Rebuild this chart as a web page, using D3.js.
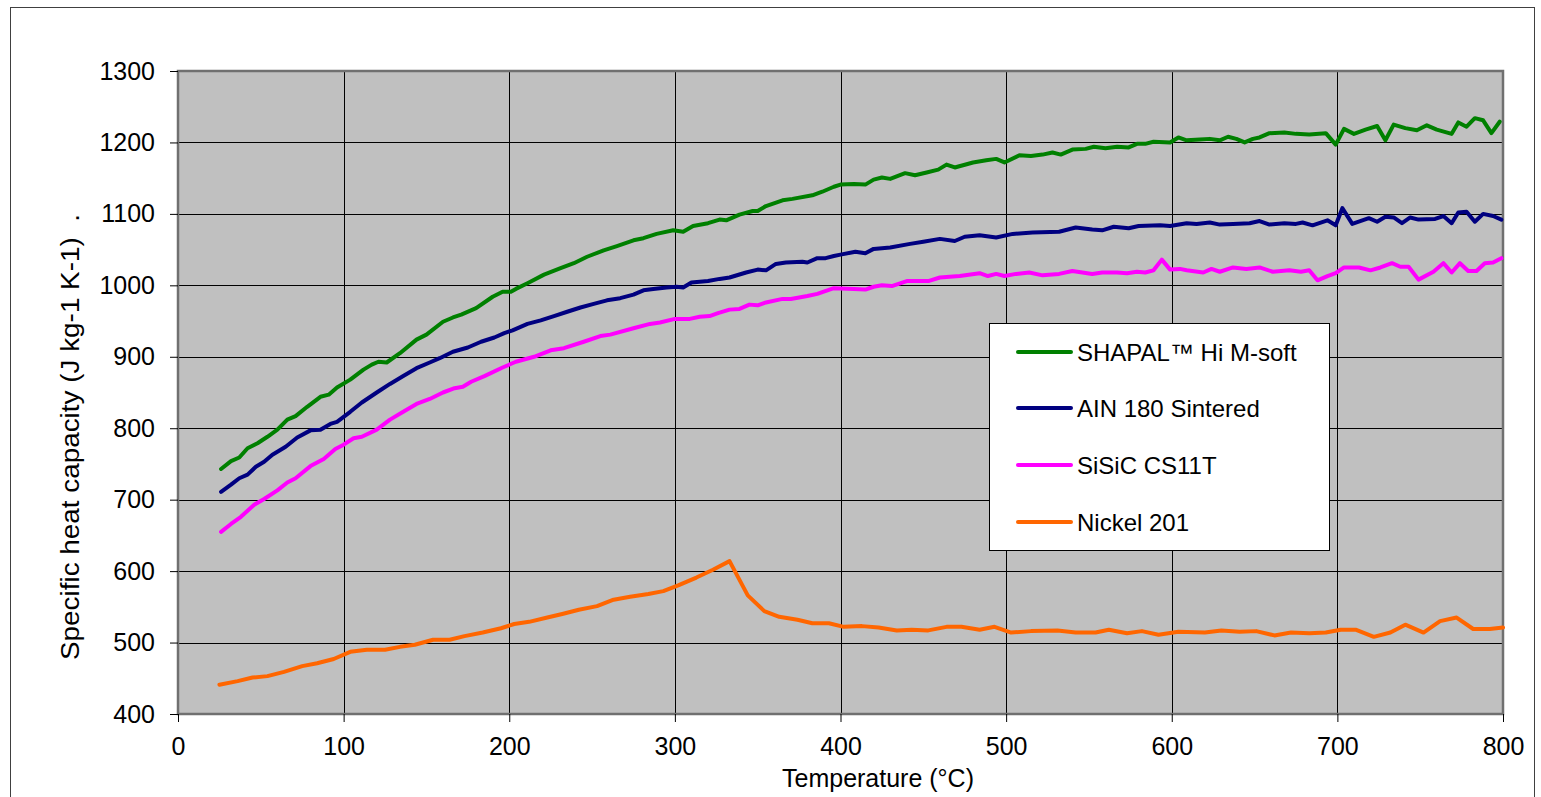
<!DOCTYPE html>
<html>
<head>
<meta charset="utf-8">
<script src="https://cdn.jsdelivr.net/npm/d3@7"></script>
<style>
  body { margin: 0; background: #fff; }
  text { font-family: "Liberation Sans", Arial, sans-serif; fill: #000; }
</style>
</head>
<body>
<svg id="chart" width="1541" height="797"></svg>
<script>
// Specific heat capacity vs temperature
var xTicks = [0, 100, 200, 300, 400, 500, 600, 700, 800],
    yTicks = [400, 500, 600, 700, 800, 900, 1000, 1100, 1200, 1300];

var seriesNames = ["SHAPAL\u2122 Hi M-soft", "AIN 180 Sintered", "SiSiC CS11T", "Nickel 201"],
    seriesColors = ["#008000", "#000080", "#ff00ff", "#ff6600"];

var shapalT = [26,32,37,42,48,54,60,66,71,78,86,91,96,104,112,117,121,126,134,144,150,160,166,171,180,190,196,201,204,211,221,231,239,247,257,265,275,281,289,299,305,311,320,327,331,339,347,350,355,365,371,383,389,396,400,408,415,420,425,430,439,445,452,459,464,469,480,488,494,499,508,515,522,528,533,540,548,553,560,567,574,579,584,589,599,604,609,617,623,629,634,639,644,649,653,659,668,675,683,693,699,704,710,717,724,729,734,741,748,754,760,769,773,778,783,788,793,798];
var shapalV = [743,754,759,772,779,788,798,812,817,830,844,847,857,868,882,889,893,892,905,924,931,949,955,959,968,984,991,991,995,1003,1015,1024,1031,1040,1049,1055,1063,1066,1072,1077,1075,1083,1087,1092,1091,1099,1104,1104,1111,1119,1121,1126,1131,1138,1141,1142,1141,1148,1151,1149,1157,1154,1158,1162,1169,1165,1172,1175,1177,1172,1182,1181,1183,1186,1183,1190,1191,1194,1192,1194,1193,1198,1198,1201,1200,1207,1203,1204,1205,1203,1208,1205,1200,1205,1207,1213,1214,1212,1211,1213,1197,1219,1212,1218,1223,1203,1225,1220,1217,1224,1218,1212,1228,1222,1234,1231,1213,1229];

var ainT = [26,32,37,42,47,52,57,65,72,80,86,92,96,104,111,120,128,136,144,152,158,166,175,183,191,197,202,211,219,227,235,243,251,259,267,275,281,287,295,301,305,310,320,327,333,343,350,355,361,367,377,380,386,391,396,400,409,415,420,430,442,450,460,469,475,484,494,504,516,532,542,552,558,565,574,580,593,599,609,615,623,629,637,647,653,659,668,675,679,685,694,699,703,709,719,724,729,734,739,744,749,759,764,769,773,778,783,788,794,799];
var ainV = [711,721,730,735,746,753,763,774,787,797,798,806,809,823,836,850,862,873,884,892,898,907,913,921,927,933,937,946,951,957,963,969,974,979,982,987,993,995,997,998,997,1004,1006,1009,1011,1018,1022,1021,1030,1032,1033,1032,1038,1038,1041,1043,1047,1045,1051,1053,1058,1061,1065,1062,1068,1070,1067,1072,1074,1075,1081,1078,1077,1082,1080,1083,1084,1083,1087,1086,1088,1085,1086,1087,1090,1085,1087,1086,1088,1084,1091,1084,1108,1086,1094,1089,1096,1095,1087,1095,1092,1093,1097,1087,1102,1103,1089,1100,1097,1092];

var sisicT = [26,32,38,46,52,60,66,71,80,88,95,100,106,111,120,128,136,144,152,160,167,172,177,185,196,204,215,225,233,245,255,261,275,285,291,300,309,315,321,326,333,339,345,350,355,365,370,380,386,396,408,415,420,425,431,440,453,460,472,484,489,494,499,506,514,522,532,540,552,558,567,573,579,584,589,594,599,605,609,619,624,629,637,645,653,661,671,678,683,688,694,699,704,713,720,726,733,738,743,749,758,764,769,774,779,784,789,794,799];
var sisicV = [655,666,676,693,701,713,724,730,747,757,771,777,786,788,798,812,823,834,841,850,856,858,865,873,885,893,900,909,912,921,929,931,940,946,948,953,953,956,957,961,966,967,973,972,976,981,981,985,988,996,995,994,998,1000,999,1006,1006,1011,1013,1017,1013,1016,1013,1016,1018,1014,1016,1020,1016,1018,1018,1017,1019,1018,1021,1036,1022,1023,1021,1018,1023,1019,1025,1023,1025,1019,1021,1019,1021,1007,1013,1017,1025,1025,1021,1025,1031,1026,1026,1008,1019,1031,1018,1031,1020,1020,1031,1032,1038];

var nickelT = [25,36,45,54,64,75,84,94,104,114,125,134,143,154,164,173,184,195,203,212,223,232,242,253,263,273,284,293,302,313,323,333,344,354,363,374,383,393,402,413,423,434,443,453,464,473,484,493,503,515,531,542,554,562,573,582,592,604,620,630,641,651,662,672,683,693,702,711,722,732,741,752,762,772,782,792,800];
var nickelV = [441,446,451,453,459,467,471,477,487,490,490,494,497,504,504,509,514,520,526,529,535,540,546,551,560,564,568,572,580,591,602,614,566,544,536,532,527,527,522,523,521,517,518,517,522,522,518,522,514,516,517,514,514,518,513,516,511,515,514,517,515,516,510,514,513,514,518,518,508,514,525,514,530,535,519,519,521];

var seriesT = [shapalT, ainT, sisicT, nickelT],
    seriesV = [shapalV, ainV, sisicV, nickelV];

var svg = d3.select("#chart");
var plotLeft = 178, plotRight = 1503, plotTop = 71, plotBottom = 714;

var x = d3.scaleLinear().domain([0, 800]).range([plotLeft, plotRight]);
var y = d3.scaleLinear().domain([400, 1300]).range([plotBottom, plotTop]);

// outer chart frame
svg.append("rect")
    .attr("x", 10.5).attr("y", 7.5)
    .attr("width", 1524).attr("height", 800)
    .attr("fill", "none").attr("stroke", "#404040").attr("stroke-width", 1);

// plot area
svg.append("rect")
    .attr("x", plotLeft).attr("y", plotTop)
    .attr("width", plotRight - plotLeft).attr("height", plotBottom - plotTop)
    .attr("fill", "#c0c0c0");

var grid = svg.append("g");
grid.selectAll("line.h").data(yTicks).enter().append("line")
    .attr("class", "h")
    .attr("x1", plotLeft).attr("x2", plotRight)
    .attr("y1", function(d) { return Math.round(y(d)) + 0.5; })
    .attr("y2", function(d) { return Math.round(y(d)) + 0.5; })
    .attr("stroke", "#000").attr("stroke-width", 1);
grid.selectAll("line.v").data(xTicks).enter().append("line")
    .attr("class", "v")
    .attr("y1", plotTop).attr("y2", plotBottom)
    .attr("x1", function(d) { return Math.round(x(d)) + 0.5; })
    .attr("x2", function(d) { return Math.round(x(d)) + 0.5; })
    .attr("stroke", "#000").attr("stroke-width", 1);

// border of plot area
svg.append("rect")
    .attr("x", plotLeft).attr("y", plotTop)
    .attr("width", plotRight - plotLeft).attr("height", plotBottom - plotTop)
    .attr("fill", "none").attr("stroke", "#707070").attr("stroke-width", 2.5);

// axes
var yAxis = svg.append("g")
    .attr("transform", "translate(" + plotLeft + ",0)")
    .call(d3.axisLeft(y).tickValues(yTicks).tickSize(8).tickPadding(15).tickFormat(d3.format("d")));
var xAxis = svg.append("g")
    .attr("transform", "translate(0," + plotBottom + ")")
    .call(d3.axisBottom(x).tickValues(xTicks).tickSize(8).tickPadding(15).tickFormat(d3.format("d")));

[yAxis, xAxis].forEach(function(a) {
  a.select(".domain").remove();
  a.selectAll(".tick line").attr("stroke", "#000");
  a.selectAll(".tick text")
    .attr("fill", "#000")
    .style("font-size", "25px")
    .style("font-family", "'Liberation Sans', Arial, sans-serif");
});

// series lines
var line = d3.line()
    .x(function(d) { return x(d[0]); })
    .y(function(d) { return y(d[1]); });

seriesT.forEach(function(ts, i) {
  var pts = ts.map(function(t, j) { return [t, seriesV[i][j]]; });
  svg.append("path")
      .datum(pts)
      .attr("d", line)
      .attr("fill", "none")
      .attr("stroke", seriesColors[i])
      .attr("stroke-width", 4)
      .attr("stroke-linejoin", "round")
      .attr("stroke-linecap", "round");
});

// axis titles
svg.append("text")
    .attr("x", 878).attr("y", 787)
    .attr("text-anchor", "middle")
    .style("font-size", "25px")
    .text("Temperature (\u00b0C)");

svg.append("text")
    .attr("transform", "translate(79,660) rotate(-90)")
    .attr("x", 0).attr("y", 0)
    .attr("textLength", 446)
    .attr("lengthAdjust", "spacingAndGlyphs")
    .style("font-size", "25px")
    .style("white-space", "pre")
    .text("Specific heat capacity (J kg-1 K-1)  .");

// legend
var legend = svg.append("g");
legend.append("rect")
    .attr("x", 989.5).attr("y", 323.5)
    .attr("width", 340).attr("height", 227)
    .attr("fill", "#fff").attr("stroke", "#000").attr("stroke-width", 1);

var legY = [352, 408, 465, 522];
seriesNames.forEach(function(name, i) {
  legend.append("line")
      .attr("x1", 1018).attr("x2", 1071)
      .attr("y1", legY[i]).attr("y2", legY[i])
      .attr("stroke", seriesColors[i]).attr("stroke-width", 4)
      .attr("stroke-linecap", "round");
  legend.append("text")
      .attr("x", 1077).attr("y", legY[i] + 9)
      .style("font-size", "24px")
      .text(name);
});
</script>
</body>
</html>
